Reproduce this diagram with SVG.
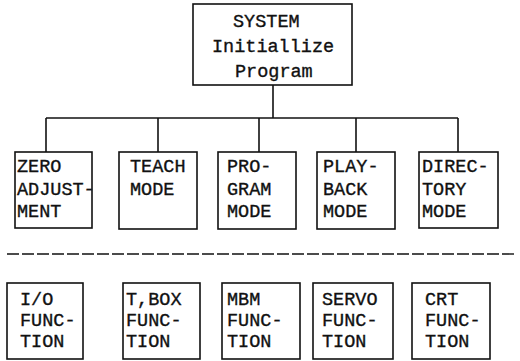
<svg xmlns="http://www.w3.org/2000/svg" width="520" height="361" viewBox="0 0 520 361">
<style>
.box{fill:none;stroke:#111;stroke-width:1.6}
.ln{fill:none;stroke:#111;stroke-width:1.6}
.dash{fill:none;stroke:#111;stroke-width:1.4;stroke-dasharray:12 3}
text{font-family:"Liberation Mono","DejaVu Sans Mono",monospace;font-size:18.5px;fill:#111;stroke:#111;stroke-width:0.35}
</style>
<rect width="520" height="361" fill="#fff"/>
<g id="connectors">
<line class="ln" x1="273" y1="85" x2="273" y2="118"/>
<line class="ln" x1="46" y1="118" x2="458" y2="118"/>
<line class="ln" x1="46" y1="118" x2="46" y2="152"/>
<line class="ln" x1="158" y1="118" x2="158" y2="152"/>
<line class="ln" x1="259" y1="118" x2="259" y2="152"/>
<line class="ln" x1="356" y1="118" x2="356" y2="152"/>
<line class="ln" x1="458" y1="118" x2="458" y2="152"/>
</g>
<g id="separator">
<line class="dash" x1="7" y1="254" x2="515" y2="254"/>
</g>
<g id="system">
<rect class="box" x="193" y="4" width="159" height="81"/>
<text x="233" y="27">SYSTEM</text>
<text x="212" y="52">Initiallize</text>
<text x="235" y="77">Program</text>
</g>
<g id="zero">
<rect class="box" x="15" y="152" width="77" height="76"/>
<text x="17" y="172">ZERO</text>
<text x="17" y="195">ADJUST-</text>
<text x="17" y="217">MENT</text>
</g>
<g id="teach">
<rect class="box" x="119" y="152" width="78" height="77"/>
<text x="130" y="172">TEACH</text>
<text x="130" y="195">MODE</text>
</g>
<g id="program">
<rect class="box" x="218" y="152" width="78" height="77"/>
<text x="227" y="172">PRO-</text>
<text x="227" y="195">GRAM</text>
<text x="227" y="217">MODE</text>
</g>
<g id="playback">
<rect class="box" x="317" y="152" width="78" height="77"/>
<text x="323" y="172">PLAY-</text>
<text x="323" y="195">BACK</text>
<text x="323" y="217">MODE</text>
</g>
<g id="directory">
<rect class="box" x="419" y="152" width="79" height="76"/>
<text x="422" y="172">DIREC-</text>
<text x="422" y="195">TORY</text>
<text x="422" y="217">MODE</text>
</g>
<g id="io">
<rect class="box" x="7" y="283" width="76" height="76"/>
<text x="20" y="305">I/O</text>
<text x="20" y="326">FUNC-</text>
<text x="20" y="347">TION</text>
</g>
<g id="tbox">
<rect class="box" x="123" y="283" width="77" height="76"/>
<text x="126" y="305">T,BOX</text>
<text x="126" y="326">FUNC-</text>
<text x="126" y="347">TION</text>
</g>
<g id="mbm">
<rect class="box" x="222" y="283" width="78" height="76"/>
<text x="227" y="305">MBM</text>
<text x="227" y="326">FUNC-</text>
<text x="227" y="347">TION</text>
</g>
<g id="servo">
<rect class="box" x="313" y="283" width="80" height="76"/>
<text x="322" y="305">SERVO</text>
<text x="322" y="326">FUNC-</text>
<text x="322" y="347">TION</text>
</g>
<g id="crt">
<rect class="box" x="412" y="283" width="78" height="76"/>
<text x="425" y="305">CRT</text>
<text x="425" y="326">FUNC-</text>
<text x="425" y="347">TION</text>
</g>
</svg>
